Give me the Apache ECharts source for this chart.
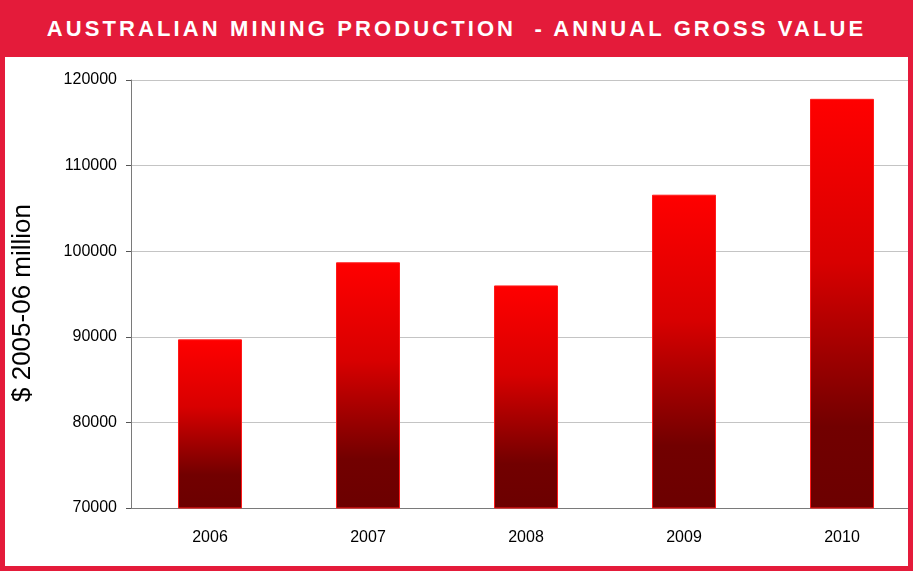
<!DOCTYPE html>
<html>
<head>
<meta charset="utf-8">
<script src="https://cdn.jsdelivr.net/npm/echarts@6/dist/echarts.min.js"></script>
<style>
  html, body { margin: 0; padding: 0; background: #fff; }
  .wrap { position: relative; width: 913px; height: 574px; overflow: hidden; }
  /* the plot runs past the right frame in the original, so the canvas is wider and clipped */
  #chart { position: absolute; left: 0; top: 0; width: 921px; height: 574px; }
  .frame { position: absolute; background: #e41b3a; }
  .title {
    position: absolute; left: 0; top: 0; width: 913px; height: 57px;
    background: #e41b3a; color: #fff;
    font: bold 22px "Liberation Sans", Arial, sans-serif;
    letter-spacing: 3.1px; line-height: 58px; text-align: center;
    white-space: pre;
  }
</style>
</head>
<body>
<div class="wrap">
  <div id="chart"></div>
  <div class="title">AUSTRALIAN MINING PRODUCTION  - ANNUAL GROSS VALUE</div>
  <div class="frame" style="left:0;top:0;width:5px;height:571px"></div>
  <div class="frame" style="left:908px;top:0;width:5px;height:571px"></div>
  <div class="frame" style="left:0;top:566px;width:913px;height:5px"></div>
</div>
<script>
// values
const years = ['2006', '2007', '2008', '2009', '2010']
const grossValue = [89700, 98700, 96000, 106600, 117800]
const yTicks = { min: 70000, max: 120000, step: 10000 }
const yTitle = '$ 2005-06 million'

const myChart = echarts.init(document.getElementById('chart'))

const option = {
  animation: false,
  grid: {
    left: 131,
    right: 0,
    top: 80,
    bottom: 66
  },
  graphic: [
    {
      type: 'text',
      x: 23,
      y: 303,
      rotation: Math.PI / 2,
      style: {
        text: yTitle,
        fill: '#000',
        font: '26px "Liberation Sans"',
        textAlign: 'center',
        textVerticalAlign: 'middle'
      }
    }
  ],
  xAxis: {
    type: 'category',
    data: years,
    axisLine: { lineStyle: { color: '#7a7a7a', width: 1 } },
    axisTick: { length: 5, lineStyle: { color: '#555' } },
    axisLabel: {
      margin: 22,
      color: '#000',
      fontSize: 16,
      fontFamily: 'Liberation Sans'
    }
  },
  yAxis: {
    type: 'value',
    min: yTicks.min,
    max: yTicks.max,
    interval: yTicks.step,
    axisLine: { show: true, lineStyle: { color: '#7a7a7a', width: 1 } },
    axisTick: { show: true, length: 5, lineStyle: { color: '#555' } },
    axisLabel: {
      margin: 14,
      color: '#000',
      fontSize: 16,
      fontFamily: 'Liberation Sans',
      formatter: v => String(v)
    },
    splitLine: { lineStyle: { color: '#c4c4c4', width: 1 } }
  },
  series: [
    {
      type: 'bar',
      data: grossValue,
      barWidth: '40.5%',
      itemStyle: {
        borderColor: '#ff1a1a',
        borderWidth: 1,
        color: {
          type: 'linear',
          x: 0, y: 0, x2: 0, y2: 1,
          colorStops: [
            { offset: 0, color: '#ff0000' },
            { offset: 0.4, color: '#d80000' },
            { offset: 0.8, color: '#720000' },
            { offset: 1, color: '#6c0000' }
          ]
        }
      }
    }
  ]
}

myChart.setOption(option)
</script>
</body>
</html>
